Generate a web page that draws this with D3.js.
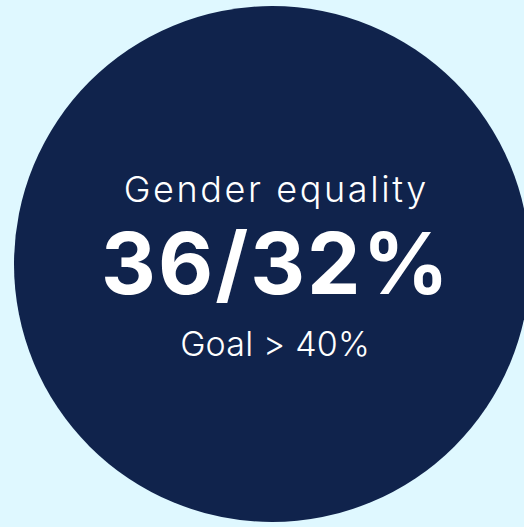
<!DOCTYPE html>
<html>
<head>
<meta charset="utf-8">
<script src="https://d3js.org/d3.v7.min.js"></script>
<style>
  html, body { margin: 0; padding: 0; background: #dff8ff; overflow: hidden; }
  .label { font-family: 'Inter', sans-serif; fill: #ffffff; text-anchor: middle; }
</style>
</head>
<body>
<svg id="chart" width="524" height="527"></svg>
<script>
// data
const metric = ["Gender equality"];
const values = [36, 32];
const goal = [40];

const svg = d3.select("#chart");
const width = +svg.attr("width");
const height = +svg.attr("height");

// background
svg.append("rect")
   .attr("width", width)
   .attr("height", height)
   .attr("fill", "#dff8ff");

// the big disc
const cx = 272, cy = 264, r = 258;
svg.append("circle")
   .attr("cx", cx)
   .attr("cy", cy)
   .attr("r", r)
   .attr("fill", "#10234c");

const g = svg.append("g").attr("transform", "translate(" + 275 + ",0)");

// letter-spacing adds room after the last glyph, so nudge by half of it
function label(y, size, weight, ls, txt) {
  return g.append("text")
     .attr("class", "label")
     .attr("x", ls / 2)
     .attr("y", y)
     .style("font-size", size + "px")
     .style("font-weight", weight)
     .style("letter-spacing", ls + "px")
     .text(txt);
}

label(202, 36, 350, 2.6, metric[0]);
label(294, 85, 700, 2, values.join("/") + "%");
label(356, 34, 350, 0.2, "Goal > " + goal[0] + "%");
</script>
</body>
</html>
